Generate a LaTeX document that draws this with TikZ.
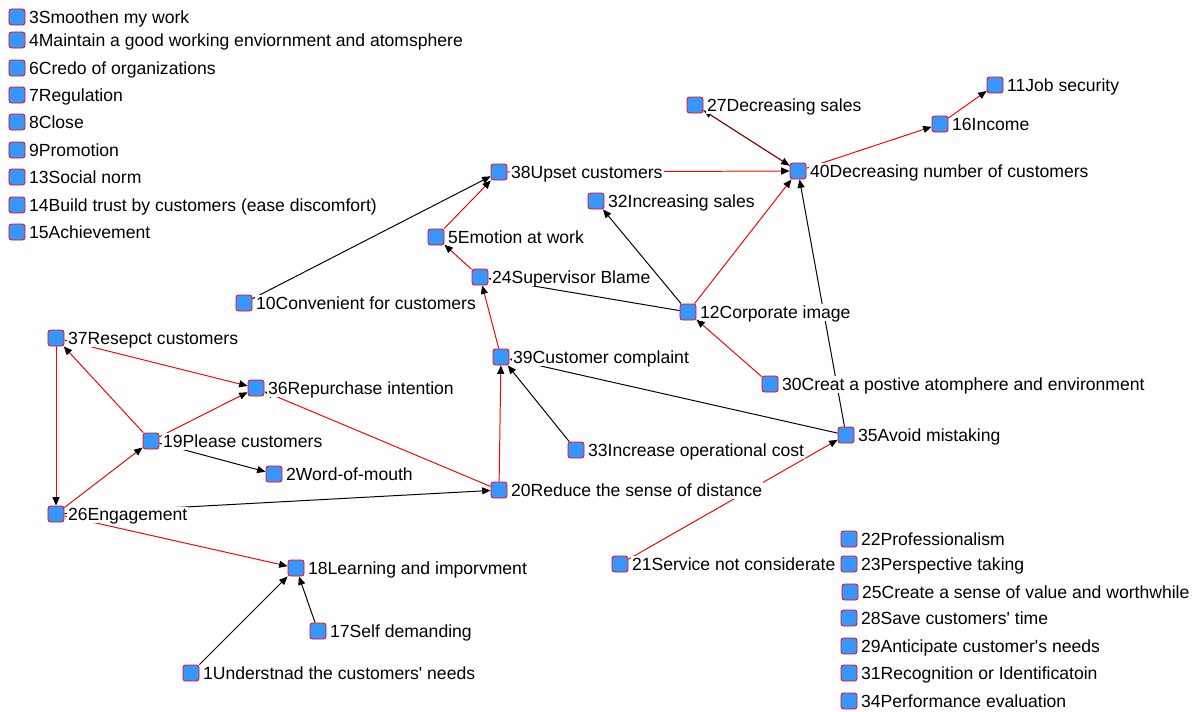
\documentclass[tikz,border=0pt]{standalone}
\usepackage{fontspec}
\setmainfont{Liberation Sans}[Ligatures=TeXOff]
\usepackage{tikz}
\usetikzlibrary{arrows.meta,backgrounds}
\definecolor{boxblue}{RGB}{55,150,255}

\begin{document}
\begin{tikzpicture}[x=0.025cm,y=-0.025cm,
concept/.style={draw=red,fill=boxblue,line width=0.6pt,rounded corners=1.8pt,minimum size=0.4cm,inner sep=0pt},
conlabel/.style={anchor=base west,xshift=1.6pt,yshift=-4.4pt,inner sep=0.8pt,text depth=1pt,fill=white,font=\fontsize{12.5}{15}\selectfont},
link/.style={-{Triangle[length=6pt,width=5pt]},line width=0.7pt},
redlink/.style={link,draw=red,-{Triangle[length=6pt,width=5pt,color=black]}} ]

\useasboundingbox (0,0) rectangle (1200,711);

% left column
\node[concept] (n3) at (17,17) {};
\node[conlabel] (t3) at (n3.east) {3Smoothen my work};
\node[concept] (n4) at (17,40) {};
\node[conlabel] (t4) at (n4.east) {4Maintain a good working enviornment and atomsphere};
\node[concept] (n6) at (17,68) {};
\node[conlabel] (t6) at (n6.east) {6Credo of organizations};
\node[concept] (n7) at (17,95) {};
\node[conlabel] (t7) at (n7.east) {7Regulation};
\node[concept] (n8) at (17,122) {};
\node[conlabel] (t8) at (n8.east) {8Close};
\node[concept] (n9) at (17,150) {};
\node[conlabel] (t9) at (n9.east) {9Promotion};
\node[concept] (n13) at (17,177) {};
\node[conlabel] (t13) at (n13.east) {13Social norm};
\node[concept] (n14) at (17,205) {};
\node[conlabel] (t14) at (n14.east) {14Build trust by customers (ease discomfort)};
\node[concept] (n15) at (17,232) {};
\node[conlabel] (t15) at (n15.east) {15Achievement};

% the map
\node[concept] (n27) at (695,105) {};
\node[conlabel] (t27) at (n27.east) {27Decreasing sales};
\node[concept] (n11) at (995,85) {};
\node[conlabel] (t11) at (n11.east) {11Job security};
\node[concept] (n16) at (940,124) {};
\node[conlabel] (t16) at (n16.east) {16Income};
\node[concept] (n40) at (798,171) {};
\node[conlabel] (t40) at (n40.east) {40Decreasing number of customers};
\node[concept] (n38) at (499,172) {};
\node[conlabel] (t38) at (n38.east) {38Upset customers};
\node[concept] (n32) at (596,201) {};
\node[conlabel] (t32) at (n32.east) {32Increasing sales};
\node[concept] (n5) at (436,237) {};
\node[conlabel] (t5) at (n5.east) {5Emotion at work};
\node[concept] (n24) at (480,277) {};
\node[conlabel] (t24) at (n24.east) {24Supervisor Blame};
\node[concept] (n10) at (244,303) {};
\node[conlabel] (t10) at (n10.east) {10Convenient for customers};
\node[concept] (n12) at (688,312) {};
\node[conlabel] (t12) at (n12.east) {12Corporate image};
\node[concept] (n37) at (56,338) {};
\node[conlabel] (t37) at (n37.east) {37Resepct customers};
\node[concept] (n39) at (501,357) {};
\node[conlabel] (t39) at (n39.east) {39Customer complaint};
\node[concept] (n36) at (256,388) {};
\node[conlabel] (t36) at (n36.east) {36Repurchase intention};
\node[concept] (n30) at (770,384) {};
\node[conlabel] (t30) at (n30.east) {30Creat a postive atomphere and environment};
\node[concept] (n19) at (151,441) {};
\node[conlabel] (t19) at (n19.east) {19Please customers};
\node[concept] (n35) at (846,435) {};
\node[conlabel] (t35) at (n35.east) {35Avoid mistaking};
\node[concept] (n33) at (576,450) {};
\node[conlabel] (t33) at (n33.east) {33Increase operational cost};
\node[concept] (n2) at (274,474) {};
\node[conlabel] (t2) at (n2.east) {2Word-of-mouth};
\node[concept] (n20) at (499,490) {};
\node[conlabel] (t20) at (n20.east) {20Reduce the sense of distance};
\node[concept] (n26) at (56,514) {};
\node[conlabel] (t26) at (n26.east) {26Engagement};
\node[concept] (n18) at (296,568) {};
\node[conlabel] (t18) at (n18.east) {18Learning and imporvment};
\node[concept] (n21) at (620,564) {};
\node[conlabel] (t21) at (n21.east) {21Service not considerate};
\node[concept] (n17) at (318,631) {};
\node[conlabel] (t17) at (n17.east) {17Self demanding};
\node[concept] (n1) at (191,673) {};
\node[conlabel] (t1) at (n1.east) {1Understnad the customers' needs};

% right column
\node[concept] (n22) at (849,539) {};
\node[conlabel] (t22) at (n22.east) {22Professionalism};
\node[concept] (n23) at (849,564) {};
\node[conlabel] (t23) at (n23.east) {23Perspective taking};
\node[concept] (n25) at (850,592) {};
\node[conlabel] (t25) at (n25.east) {25Create a sense of value and worthwhile};
\node[concept] (n28) at (849,618) {};
\node[conlabel] (t28) at (n28.east) {28Save customers' time};
\node[concept] (n29) at (849,646) {};
\node[conlabel] (t29) at (n29.east) {29Anticipate customer's needs};
\node[concept] (n31) at (849,673) {};
\node[conlabel] (t31) at (n31.east) {31Recognition or Identificatoin};
\node[concept] (n34) at (849,701) {};
\node[conlabel] (t34) at (n34.east) {34Performance evaluation};

\begin{scope}[on background layer]
\draw[redlink] (n27) -- (n40);
\draw[link,draw opacity=0.55] (n40) -- (n27);
\draw[redlink] (n40) -- (n16);
\draw[redlink] (n16) -- (n11);
\draw[redlink] (n38) -- (n40);
\draw[redlink] (n12) -- (n40);
\draw[link] (n35) -- (n40);
\draw[link] (n12) -- (n32);
\draw[link] (n10) -- (n38);
\draw[redlink] (n5) -- (n38);
\draw[redlink] (n24) -- (n5);
\draw[link] (n12) -- (n24);
\draw[redlink] (n39) -- (n24);
\draw[redlink] (n30) -- (n12);
\draw[link] (n35) -- (n39);
\draw[link] (n33) -- (n39);
\draw[redlink] (n20) -- (n39);
\draw[redlink] (n21) -- (n35);
\draw[link] (n26) -- (n20);
\draw[redlink] (n20) -- (n36);
\draw[redlink] (n37) -- (n36);
\draw[redlink] (n19) -- (n36);
\draw[redlink] (n19) -- (n37);
\draw[redlink] (n37) -- (n26);
\draw[redlink] (n26) -- (n19);
\draw[link] (n19) -- (n2);
\draw[redlink] (n26) -- (n18);
\draw[link] (n1) -- (n18);
\draw[link] (n17) -- (n18);
\end{scope}

\end{tikzpicture}
\end{document}
